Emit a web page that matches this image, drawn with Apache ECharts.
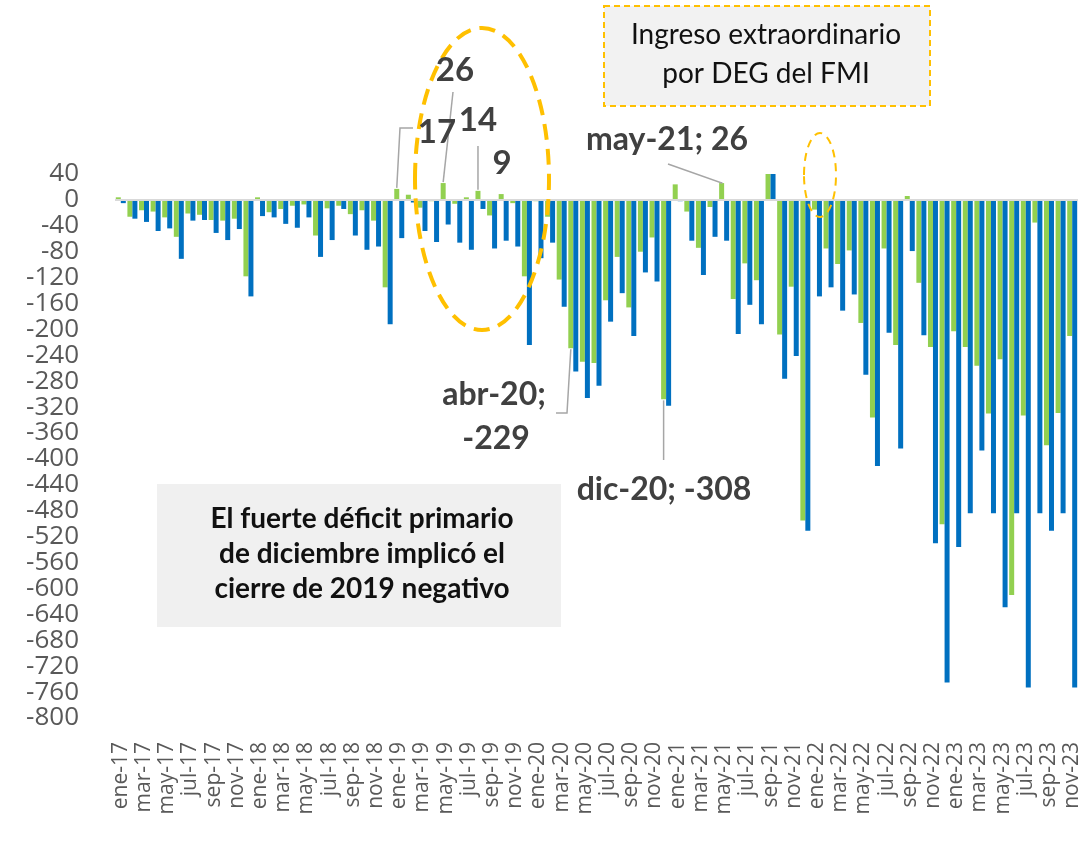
<!DOCTYPE html>
<html>
<head>
<meta charset="utf-8">
<script src="https://cdn.jsdelivr.net/npm/echarts@6/dist/echarts.min.js"></script>
<style>
  html, body { margin: 0; padding: 0; background: #fff; }
  #chart-1 { width: 1089px; height: 851px; }
</style>
</head>
<body>
<div id="chart-1"></div>
<script>
/************************        Resultado primario y financiero mensual        **************************/

var meses = ['ene', 'feb', 'mar', 'abr', 'may', 'jun', 'jul', 'ago', 'sep', 'oct', 'nov', 'dic'];
var anios = ['17', '18', '19', '20', '21', '22', '23'];

// ene-17 ... nov-23
var categorias = [];
anios.forEach(function (a) {
    meses.forEach(function (m) { categorias.push(m + '-' + a); });
});
categorias = categorias.slice(0, 83);

var primario = [
    4, -26, -16, -18, -27, -57, -21, -23, -31, -32, -29, -118,
    4, -19, -14, -9, -7, -55, -13, -9, -22, -16, -32, -135,
    17, 8, -12, -2, 26, -6, 4, 14, -24, 9, -5, -118,
    -2, -26, -123, -229, -250, -252, -155, -88, -166, -80, -58, -308,
    24, -18, -74, -11, 26, -153, -98, -124, 41, -208, -134, -495,
    -15, -75, -99, -78, -190, -336, -75, -224, 6, -128, -227, -501,
    -203, -227, -256, -330, -246, -610, -333, -35, -379, -329, -210
];

var financiero = [
    -5, -29, -34, -48, -44, -91, -32, -31, -51, -62, -45, -149,
    -25, -27, -37, -43, -27, -88, -62, -14, -55, -77, -72, -192,
    -59, -4, -48, -65, -38, -66, -77, -14, -75, -63, -72, -224,
    -90, -66, -165, -265, -306, -287, -188, -144, -210, -112, -126, -318,
    -2, -63, -116, -57, -63, -207, -162, -192, 41, -276, -241, -511,
    -149, -135, -171, -146, -270, -411, -205, -384, -79, -209, -530, -745,
    -536, -484, -387, -484, -629, -484, -753, -484, -511, -484, -753
];

var verde = '#92d050';
var azul = '#0070c0';
var naranja = '#ffc000';
var gris = '#404040';

var dom = document.getElementById("chart-1");
var myChart = echarts.init(dom);
var option = {
    backgroundColor: '#ffffff',
    animation: false,
    grid: {
        left: 115,
        right: 11,
        top: 174,
        bottom: 133
    },
    xAxis: {
        type: 'category',
        data: categorias,
        axisLine: { show: false, onZero: false },
        axisTick: { show: false },
        axisLabel: {
            interval: 1,
            rotate: 90,
            margin: 24,
            fontSize: 21,
            fontFamily: 'Open Sans',
            color: '#595959'
        }
    },
    yAxis: {
        type: 'value',
        min: -800,
        max: 40,
        interval: 40,
        axisLine: { show: false },
        axisTick: { show: false },
        splitLine: { show: false },
        axisLabel: {
            margin: 36,
            fontSize: 26,
            lineHeight: 24,
            fontFamily: 'Open Sans',
            color: '#595959',
            showMinLabel: true,
            showMaxLabel: true,
            hideOverlap: false
        }
    },
    series: [
        {
            name: 'Resultado primario',
            type: 'bar',
            data: primario,
            barWidth: 5,
            barGap: '0%',
            itemStyle: { color: verde },
            markLine: {
                silent: true,
                symbol: 'none',
                label: { show: false },
                lineStyle: { color: '#d9d9d9', width: 2, type: 'solid' },
                data: [{ yAxis: 0 }]
            }
        },
        {
            name: 'Resultado financiero',
            type: 'bar',
            data: financiero,
            barWidth: 5,
            barGap: '0%',
            itemStyle: { color: azul }
        }
    ]
};
myChart.setOption(option);

// punta de la barra verde de la categoria i
function punta(i) {
    var p = myChart.convertToPixel({ gridIndex: 0 }, [i, primario[i]]);
    return [p[0] - 2.5, p[1]];
}
function texto(t, x, y, font, color) {
    return {
        type: 'text', z: 120,
        style: { text: t, x: x, y: y, font: font, fill: color || gris, align: 'center', verticalAlign: 'middle' }
    };
}
function linea(pts) {
    return {
        type: 'polyline', z: 110,
        shape: { points: pts },
        style: { stroke: '#a6a6a6', lineWidth: 1.5, fill: null }
    };
}

var p17 = punta(24), p26 = punta(28), p14 = punta(31);
var pMay = punta(52), pAbr = punta(39), pDic = punta(47);

myChart.setOption({
    graphic: [
        // cuadro superior
        {
            type: 'rect', z: 100,
            shape: { x: 604, y: 6, width: 326, height: 100 },
            style: { fill: '#f2f2f2', stroke: naranja, lineWidth: 2, lineDash: [6, 4] }
        },
        texto('Ingreso extraordinario', 766, 35, '28px Lato', '#111'),
        texto('por DEG del FMI', 766, 74, '28px Lato', '#111'),

        // cuadro inferior
        {
            type: 'rect', z: 100,
            shape: { x: 157, y: 484, width: 404, height: 143 },
            style: { fill: '#f0f0f0' }
        },
        texto('El fuerte déficit primario', 362, 519, 'bold 28px Lato', '#111'),
        texto('de diciembre implicó el', 362, 554, 'bold 28px Lato', '#111'),
        texto('cierre de 2019 negativo', 362, 589, 'bold 28px Lato', '#111'),

        // elipses
        {
            type: 'ellipse', z: 105,
            shape: { cx: 482, cy: 179, rx: 67, ry: 151 },
            style: { fill: null, stroke: naranja, lineWidth: 4, lineDash: [16, 9] }
        },
        {
            type: 'ellipse', z: 105,
            shape: { cx: 820, cy: 175, rx: 16, ry: 42 },
            style: { fill: null, stroke: naranja, lineWidth: 2, lineDash: [8, 6] }
        },

        // etiquetas con guia
        linea([[413, 128], [400, 128], [p17[0], p17[1] - 1]]),
        linea([[453, 92], [p26[0], p26[1] - 1]]),
        linea([[p14[0], 146], [p14[0], p14[1] - 1]]),
        linea([[668, 164], [pMay[0], 183], [pMay[0], pMay[1] - 1]]),
        linea([[556, 413], [567, 413], [pAbr[0], pAbr[1] + 1]]),
        linea([[pDic[0], pDic[1] + 1], [pDic[0], 460]]),

        texto('26', 455, 70, 'bold 33px Lato'),
        texto('17', 437, 132, 'bold 33px Lato'),
        texto('14', 478, 120, 'bold 33px Lato'),
        texto('9', 502, 163, 'bold 33px Lato'),
        texto('may-21; 26', 667, 140, 'bold 32px Lato'),
        texto('abr-20;', 494, 395, 'bold 32px Lato'),
        texto('-229', 496, 439, 'bold 32px Lato'),
        texto('dic-20; -308', 664, 490, 'bold 32px Lato')
    ]
});
</script>
</body>
</html>
